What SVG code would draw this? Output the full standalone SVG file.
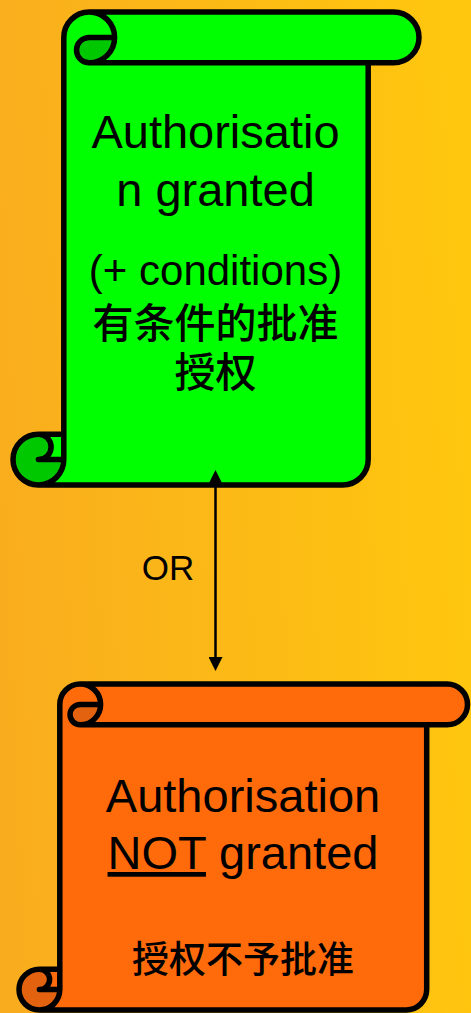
<svg xmlns="http://www.w3.org/2000/svg" width="471" height="1013" viewBox="0 0 471 1013">
  <defs>
    <linearGradient id="bg" x1="0" y1="0.55" x2="1" y2="0.45">
      <stop offset="0" stop-color="#F9AD1E"/>
      <stop offset="1" stop-color="#FFC70E"/>
    </linearGradient>
    <marker id="head" viewBox="0 0 10 10" refX="0" refY="5" markerUnits="userSpaceOnUse" markerWidth="15" markerHeight="14" orient="auto-start-reverse">
      <path d="M0,0 L10,5 L0,10 Z" fill="#000"/>
    </marker>
    <style>
      .edge { fill: none; stroke: #000; stroke-width: 5.5; stroke-linejoin: round; stroke-linecap: round; }
      .green { fill: #00FF00; }
      .green-dark { fill: #00C800; }
      .orange { fill: #FF6A0B; }
      .orange-dark { fill: #E2620F; }
      .label { font-family: "Liberation Sans", Arial, "Noto Sans CJK SC", sans-serif; fill: #000; text-anchor: middle; }
      .cjk { font-family: "Noto Sans CJK SC", "Liberation Sans", sans-serif; font-weight: 500; fill: #000; text-anchor: middle; }
      .link { stroke: #000; stroke-width: 2.5; fill: none; }
    </style>
  </defs>

  <rect x="0" y="0" width="471" height="1013" fill="url(#bg)"/>

  <!-- Vertical scroll: authorisation granted -->
  <g id="granted">
    <path class="green" d="M63.8 434.2 L63.8 37.4 A25.4 25.4 0 0 1 89.2 12 L393.6 12 A25.4 25.4 0 0 1 393.6 62.8 L368.2 62.8 L368.2 459.6 A25.4 25.4 0 0 1 342.8 485 L38.4 485 A25.4 25.4 0 0 1 38.4 434.2 Z"/>
    <path class="green-dark" d="M114.6 37.4 A25.4 25.4 0 0 1 89.2 62.8 A12.7 12.7 0 0 1 89.2 37.4 Z"/>
    <circle class="green-dark" cx="38.4" cy="459.6" r="25.4"/>
    <path class="green" d="M38.4 434.2 L63.8 434.2 L63.8 459.6 L38.4 459.6 A12.7 12.7 0 0 0 38.4 434.2 Z"/>
    <path class="edge" d="M63.8 434.2 L63.8 37.4 A25.4 25.4 0 0 1 89.2 12 L393.6 12 A25.4 25.4 0 0 1 393.6 62.8 L368.2 62.8 L368.2 459.6 A25.4 25.4 0 0 1 342.8 485 L38.4 485 A25.4 25.4 0 0 1 38.4 434.2 Z M89.2 12 A25.4 25.4 0 0 1 89.2 62.8 A12.7 12.7 0 0 1 89.2 37.4 L114.6 37.4 M368.2 62.8 L89.2 62.8 M38.4 434.2 A12.7 12.7 0 0 1 38.4 459.6 L63.8 459.6 M38.4 485 A25.4 25.4 0 0 0 63.8 459.6 L63.8 434.2"/>
    <text class="label" font-size="47"><tspan x="215.5" y="148">Authorisatio</tspan><tspan x="215.5" y="206">n granted</tspan></text>
    <text class="label" x="215.5" y="285" font-size="42">(+ conditions)</text>
    <text class="cjk" font-size="41"><tspan x="215.5" y="338">有条件的批准</tspan><tspan x="215.5" y="387">授权</tspan></text>
  </g>

  <!-- Vertical scroll: authorisation not granted -->
  <g id="not-granted">
    <path class="orange" d="M59.8 969.2 L59.8 704.4 A20.4 20.4 0 0 1 80.2 684 L447.1 684 A20.4 20.4 0 0 1 447.1 724.8 L426.7 724.8 L426.7 989.6 A20.4 20.4 0 0 1 406.3 1010 L39.4 1010 A20.4 20.4 0 0 1 39.4 969.2 Z"/>
    <path class="orange-dark" d="M100.6 704.4 A20.4 20.4 0 0 1 80.2 724.8 A10.2 10.2 0 0 1 80.2 704.4 Z"/>
    <circle class="orange-dark" cx="39.4" cy="989.6" r="20.4"/>
    <path class="orange" d="M39.4 969.2 L59.8 969.2 L59.8 989.6 L39.4 989.6 A10.2 10.2 0 0 0 39.4 969.2 Z"/>
    <path class="edge" d="M59.8 969.2 L59.8 704.4 A20.4 20.4 0 0 1 80.2 684 L447.1 684 A20.4 20.4 0 0 1 447.1 724.8 L426.7 724.8 L426.7 989.6 A20.4 20.4 0 0 1 406.3 1010 L39.4 1010 A20.4 20.4 0 0 1 39.4 969.2 Z M80.2 684 A20.4 20.4 0 0 1 80.2 724.8 A10.2 10.2 0 0 1 80.2 704.4 L100.6 704.4 M426.7 724.8 L80.2 724.8 M39.4 969.2 A10.2 10.2 0 0 1 39.4 989.6 L59.8 989.6 M39.4 1010 A20.4 20.4 0 0 0 59.8 989.6 L59.8 969.2"/>
    <text class="label" font-size="47"><tspan x="243" y="812">Authorisation</tspan><tspan x="243" y="869"><tspan text-decoration="underline">NOT</tspan> granted</tspan></text>
    <text class="cjk" x="243" y="973" font-size="37">授权不予批准</text>
  </g>

  <!-- Connector -->
  <g id="connectors">
    <line class="link" x1="215.5" y1="484" x2="215.5" y2="657" marker-start="url(#head)" marker-end="url(#head)"/>
    <text class="label" x="168" y="580" font-size="35">OR</text>
  </g>
</svg>
